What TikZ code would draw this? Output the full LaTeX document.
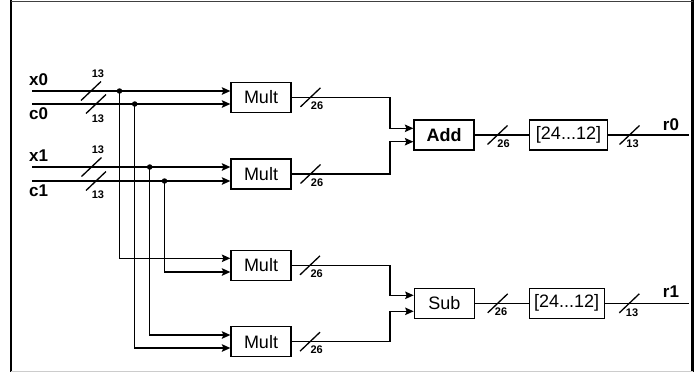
\documentclass[tikz,border=0pt]{standalone}
\usepackage{fontspec}
\setmainfont{Liberation Sans}
\usetikzlibrary{arrows.meta,calc}

% bus-width mark: name, position, width text, text position
\newcommand\busmark[4]{%
  \draw[wire] ($#2+(-10,9.5)$) -- ($#2+(10,-9.5)$);
  \node[wd] (#1) at #4 {#3};}

\begin{document}
\begin{tikzpicture}[x=1pt,y=-1pt,
  wire/.style={line width=1.3pt},
  arr/.style={wire,-{Stealth[length=8.5pt,width=7.5pt,inset=1.5pt]}},
  blk/.style={draw,line width=1.3pt,minimum width=60pt,minimum height=30pt,
    inner sep=0pt,font=\fontsize{18}{18}\selectfont},
  sig/.style={font=\bfseries\fontsize{17}{17}\selectfont,anchor=base west,inner sep=0pt},
  wd/.style={font=\bfseries\fontsize{11}{11}\selectfont,inner sep=0pt},
  dot/.style={circle,fill,inner sep=0pt,minimum size=5.5pt},
]
\useasboundingbox (0,0) rectangle (700,372);

% frame
\draw[line width=2.5pt] (11,0) -- (11,372);
\draw[line width=2.5pt] (692.5,0) -- (692.5,372);
\draw[line width=1.5pt,black!75] (11,1.5) -- (692.5,1.5);
\draw[line width=1pt,black!20] (11,371.5) -- (692.5,371.5);

% input signals
\node[sig] (lx0) at (29,85) {x0};
\node[sig] (lc0) at (29,119.5) {c0};
\node[sig] (lx1) at (29,161.5) {x1};
\node[sig] (lc1) at (29,196.5) {c1};
\coordinate (x0s) at (32,91);
\coordinate (c0s) at (32,104);
\coordinate (x1s) at (32,167);
\coordinate (c1s) at (32,181);

% multipliers
\node[blk] (m1) at (261,97.3) {Mult};
\node[blk] (m2) at (261,174) {Mult};
\node[blk] (m3) at (261,265.3) {Mult};
\node[blk] (m4) at (261,341.7) {Mult};

% adder / subtractor and bit slices
\node[blk,font=\bfseries\fontsize{18}{18}\selectfont] (add) at (444,135) {Add};
\node[blk] (sub) at (444.3,303.3) {Sub};
\node[blk,minimum width=78.5pt] (s0) at (568.5,135) {[24...12]};
\node[blk,minimum width=75pt] (s1) at (566.7,303.3) {[24...12]};

% junctions
\node[dot] (j0) at (119.5,91) {};
\node[dot] (j1) at (134.7,104) {};
\node[dot] (j2) at (149.7,167) {};
\node[dot] (j3) at (164.5,181) {};

% direct inputs
\draw[arr] (x0s) -- (x0s -| m1.west);
\draw[arr] (c0s) -- (c0s -| m1.west);
\draw[arr] (x1s) -- (x1s -| m2.west);
\draw[arr] (c1s) -- (c1s -| m2.west);

% cross inputs
\draw[arr] (j0.center) |- ($(m3.west)+(0,-7)$);
\draw[arr] (j3.center) |- ($(m3.west)+(0,6.7)$);
\draw[arr] (j2.center) |- ($(m4.west)+(0,-6.7)$);
\draw[arr] (j1.center) |- ($(m4.west)+(0,6.3)$);

% products to adder / subtractor
\coordinate (mx) at (390,0);
\draw[arr] (m1.east) -- (m1.east -| mx) |- ($(add.west)+(0,-6.7)$);
\draw[arr] (m2.east) -- (m2.east -| mx) |- ($(add.west)+(0,6.7)$);
\draw[arr] (m3.east) -- (m3.east -| mx) |- ($(sub.west)+(0,-8)$);
\draw[arr] (m4.east) -- (m4.east -| mx) |- ($(sub.west)+(0,8)$);

% to slices and outputs
\draw[wire] (add.east) -- (s0.west);
\draw[wire] (sub.east) -- (s1.west);
\coordinate (r0e) at (689.3,135);
\coordinate (r1e) at (689.3,303.3);
\draw[wire] (s0.east) -- (r0e);
\draw[wire] (s1.east) -- (r1e);
\node[sig] (lr0) at (662.7,130) {r0};
\node[sig] (lr1) at (662.7,297.5) {r1};

% bus widths
\busmark{w1}{(91,91)}{13}{(98,73.5)}
\busmark{w2}{(96,104)}{13}{(98,119)}
\busmark{w3}{(91.5,167)}{13}{(98,150)}
\busmark{w4}{(96,181)}{13}{(98,195)}
\busmark{w5}{(310.5,97.3)}{26}{(317,106)}
\busmark{w6}{(310.5,174)}{26}{(317,183)}
\busmark{w7}{(310,265.3)}{26}{(316.7,273.7)}
\busmark{w8}{(310,341.7)}{26}{(316.7,350)}
\busmark{w9}{(497.5,135)}{26}{(503.5,143.5)}
\busmark{w10}{(497.7,303.3)}{26}{(501,312)}
\busmark{w11}{(629.5,135)}{13}{(632.5,144)}
\busmark{w12}{(629.3,303.3)}{13}{(632,312.5)}
\end{tikzpicture}
\end{document}
